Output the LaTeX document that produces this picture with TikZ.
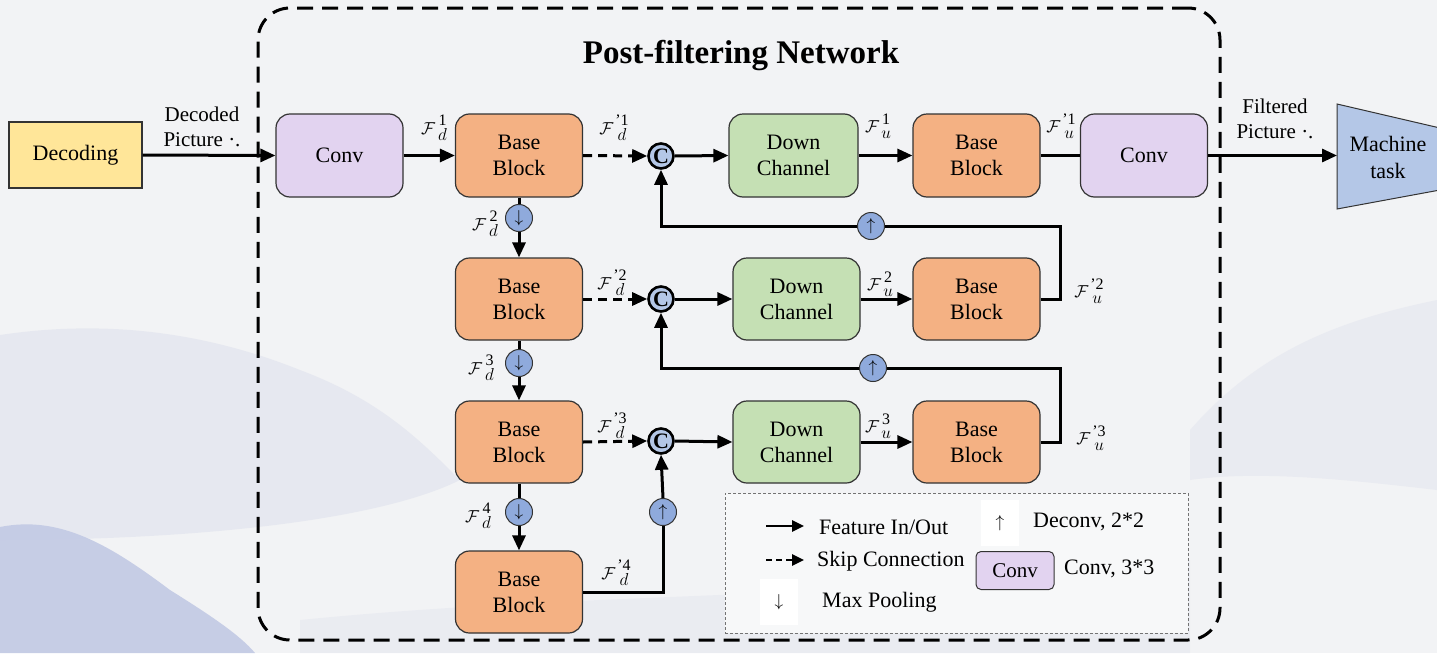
\documentclass[tikz,border=0pt]{standalone}
\usepackage{fontspec}
\setmainfont{Liberation Serif}
\usetikzlibrary{arrows.meta,calc,positioning}
\definecolor{bgc}{HTML}{F2F3F5}
\definecolor{hillc}{HTML}{E4E6EF}
\definecolor{hillb}{HTML}{C2C9E4}
\definecolor{decc}{HTML}{FFE699}
\definecolor{convc}{HTML}{E2D3F0}
\definecolor{bbc}{HTML}{F4B183}
\definecolor{dcc}{HTML}{C5E0B4}
\definecolor{cc}{HTML}{B4C7E7}
\definecolor{poolc}{HTML}{8FAADC}
\definecolor{mtc}{HTML}{B4C7E7}
\definecolor{edgec}{HTML}{333333}
\newcommand{\feat}[3]{$\mathcal{F}$\hspace{#1}\begin{tabular}{@{}c@{}}#2\\[-2pt]$#3$\end{tabular}}
\tikzset{
  blk/.style={draw=edgec, line width=1.2pt, rounded corners=14pt, minimum height=83pt, align=center, font=\fontsize{22}{26}\selectfont},
  convbox/.style={blk, fill=convc, minimum width=127pt},
  bbbox/.style={blk, fill=bbc, minimum width=127pt},
  dcbox/.style={blk, fill=dcc, minimum width=129pt},
  catnode/.style={circle, draw=black, line width=2.6pt, fill=cc, minimum size=25pt, inner sep=0pt, font=\bfseries\fontsize{22}{22}\selectfont},
  opnode/.style={circle, draw=edgec, line width=1pt, fill=poolc, minimum size=27pt, inner sep=0pt, font=\fontsize{18}{18}\selectfont},
  conn/.style={line width=3pt, draw=black},
  arr/.style={conn, -{Triangle[length=15pt,width=13pt]}},
  skip/.style={arr, dash pattern=on 9pt off 6pt},
  lbl/.style={font=\fontsize{16}{16}\selectfont, inner sep=0pt},
  txt/.style={font=\fontsize{21}{25}\selectfont, align=center, inner sep=1pt},
  legtxt/.style={font=\fontsize{22}{25}\selectfont, inner sep=1pt, anchor=west},
}
\begin{document}
\begin{tikzpicture}[x=1pt,y=-1pt]
\fill[bgc] (0,0) rectangle (1437,653);
\useasboundingbox (0,0) rectangle (1437,653);
% faint watercolour background
\fill[hillc, opacity=0.8] (0,335) .. controls (100,320) and (200,330) .. (300,370) .. controls (380,400) and (420,440) .. (460,480) .. controls (380,520) and (200,540) .. (0,540) -- cycle;
\fill[hillc, opacity=0.6] (1190,430) .. controls (1260,350) and (1340,320) .. (1437,300) -- (1437,490) .. controls (1350,480) and (1260,470) .. (1190,480) -- cycle;
\fill[hillc, opacity=0.5] (300,620) .. controls (600,590) and (900,600) .. (1190,560) -- (1190,653) -- (300,653) -- cycle;
\fill[hillb, opacity=0.9] (0,527) .. controls (60,515) and (110,545) .. (170,590) .. controls (210,615) and (240,635) .. (255,653) -- (0,653) -- cycle;

% outer dashed frame
\node[draw=black, line width=3pt, dash pattern=on 16pt off 9pt, rounded corners=32pt, minimum width=962pt, minimum height=632pt] (frame) at (739,324) {};
\node[font=\bfseries\fontsize{33}{36}\selectfont] (title) at (741,56) {Post-filtering Network};

% left input
\node[draw=edgec, line width=1.2pt, fill=decc, minimum width=133pt, minimum height=66pt, font=\fontsize{22}{24}\selectfont] (dec) at (75.5,155) {Decoding};
\node[txt] (dectxt) at (202,127) {Decoded\\Picture ·.};

% main row
\node[convbox] (conv1) at (339.5,155.5) {Conv};
\node[bbbox] (bb1) at (519,155.5) {Base\\Block};
\node[catnode] (c1) at (661,156) {C};
\node[dcbox] (dc1) at (793.5,155.5) {Down\\Channel};
\node[bbbox] (bu1) at (976.5,155.5) {Base\\Block};
\node[convbox] (conv2) at (1144,155.5) {Conv};
\filldraw[draw=edgec, line width=1pt, fill=mtc] (1337,104) -- (1440,128) -- (1440,190) -- (1337,209) -- cycle;
\node[txt, font=\fontsize{22}{27}\selectfont] (mttxt) at (1388,157) {Machine\\task};
\coordinate (mtin) at (1337,155.5);
\node[txt] (filtxt) at (1275,119) {Filtered\\Picture ·.};

% second row
\node[bbbox, minimum height=82pt] (bb2) at (519,299) {Base\\Block};
\node[catnode] (c2) at (661,299) {C};
\node[dcbox, minimum height=82pt, minimum width=127pt] (dc2) at (796.5,299) {Down\\Channel};
\node[bbbox, minimum height=82pt] (bu2) at (976.5,299) {Base\\Block};

% third row
\node[bbbox, minimum height=82pt] (bb3) at (519,442) {Base\\Block};
\node[catnode] (c3) at (661,441) {C};
\node[dcbox, minimum height=82pt, minimum width=127pt] (dc3) at (796.5,442) {Down\\Channel};
\node[bbbox, minimum height=82pt] (bu3) at (976.5,442) {Base\\Block};

% fourth row
\node[bbbox, minimum height=82pt] (bb4) at (519,592) {Base\\Block};

% pooling / deconv circles
\node[opnode] (p1) at (519,218) {$\downarrow$};
\node[opnode] (p2) at (519,363) {$\downarrow$};
\node[opnode] (p3) at (519,512) {$\downarrow$};
\node[opnode] (u1) at (871,226) {$\uparrow$};
\node[opnode] (u2) at (873,368) {$\uparrow$};
\node[opnode] (u3) at (663,512) {$\uparrow$};
\coordinate (k1) at (1060,226);
\coordinate (k2) at (1060,368);

% connectors
\draw[arr] (dec.east) -- (conv1.west);
\draw[arr] (conv1.east) -- (bb1.west);
\draw[skip] (bb1.east) -- (c1.west);
\draw[arr] (c1.east) -- (dc1.west);
\draw[arr] (dc1.east) -- (bu1.west);
\draw[conn] (bu1.east) -- (conv2.west);
\draw[arr] (conv2.east) -- (mtin);

\draw[skip] (bb2.east) -- (c2.west);
\draw[arr] (c2.east) -- (dc2.west);
\draw[arr] (dc2.east) -- (bu2.west);
\draw[skip] (bb3.east) -- (c3.west);
\draw[arr] (c3.east) -- (dc3.west);
\draw[arr] (dc3.east) -- (bu3.west);

\draw[conn] (bb1.south) -- (p1.north);
\draw[arr] (p1.south) -- (bb2.north);
\draw[conn] (bb2.south) -- (p2.north);
\draw[arr] (p2.south) -- (bb3.north);
\draw[conn] (bb3.south) -- (p3.north);
\draw[arr] (p3.south) -- (bb4.north);

\draw[conn] (bu2.east) -| (k1) -- (u1.east);
\draw[arr] (u1.west) -| (c1.south);
\draw[conn] (bu3.east) -| (k2) -- (u2.east);
\draw[arr] (u2.west) -| (c2.south);
\draw[conn] (bb4.east) -| (u3.south);
\draw[arr] (u3.north) -- (c3.south);

% feature labels
\node[lbl] (ld1) at (434,130) {\feat{3pt}{1}{d}};
\node[lbl] (ld2) at (485,226) {\feat{3pt}{2}{d}};
\node[lbl] (ld3) at (481,370) {\feat{3pt}{3}{d}};
\node[lbl] (ld4) at (478,518) {\feat{3pt}{4}{d}};
\node[lbl] (lpd1) at (614,130) {\feat{2pt}{'1}{d}};
\node[lbl] (lpd2) at (612,285) {\feat{2pt}{'2}{d}};
\node[lbl] (lpd3) at (612,428) {\feat{2pt}{'3}{d}};
\node[lbl] (lpd4) at (616,575) {\feat{2pt}{'4}{d}};
\node[lbl] (lu1) at (878,128) {\feat{2pt}{1}{u}};
\node[lbl] (lu2) at (880,286) {\feat{2pt}{2}{u}};
\node[lbl] (lu3) at (878,428) {\feat{2pt}{3}{u}};
\node[lbl] (lpu1) at (1061,128) {\feat{2pt}{'1}{u}};
\node[lbl] (lpu2) at (1089,293) {\feat{2pt}{'2}{u}};
\node[lbl] (lpu3) at (1091,440) {\feat{2pt}{'3}{u}};

% legend
\node[draw=gray!90!black, line width=0.8pt, dash pattern=on 3pt off 2pt, fill=white!40!bgc, minimum width=463pt, minimum height=140pt] (leg) at (956.5,563) {};
\coordinate (la1) at (766,526);
\coordinate (lb1) at (804,526);
\coordinate (la2) at (766,560);
\coordinate (lb2) at (804,560);
\draw[conn, line width=2.5pt, -{Triangle[length=12pt,width=11pt]}] (la1) -- (lb1);
\draw[conn, line width=2.5pt, dash pattern=on 6pt off 4pt, -{Triangle[length=12pt,width=11pt]}] (la2) -- (lb2);
\node[legtxt] (lt1) at (818,527) {Feature In/Out};
\node[legtxt] (lt2) at (816,561) {Skip Connection};
\node[fill=white, minimum width=38pt, minimum height=46pt, inner sep=0pt, font=\fontsize{17}{17}\selectfont] (lpool) at (779,602) {$\downarrow$};
\node[legtxt] (lt3) at (821,602) {Max Pooling};
\node[fill=white, minimum width=38pt, minimum height=46pt, inner sep=0pt, font=\fontsize{17}{17}\selectfont] (lup) at (1000,523) {$\uparrow$};
\node[legtxt] (lt4) at (1032,522) {Deconv, 2*2};
\node[draw=edgec, line width=1pt, fill=convc, rounded corners=5pt, minimum width=78pt, minimum height=38pt, inner sep=0pt, font=\fontsize{21}{22}\selectfont] (lconv) at (1015,570.5) {Conv};
\node[legtxt] (lt5) at (1063,569) {Conv, 3*3};
\end{tikzpicture}
\end{document}
